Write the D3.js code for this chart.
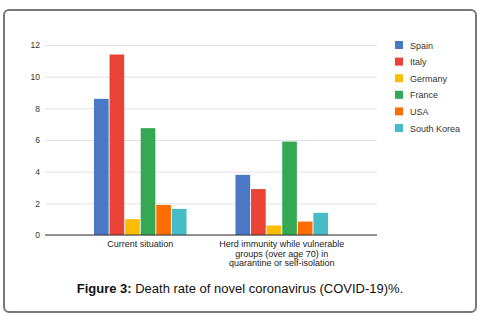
<!DOCTYPE html>
<html>
<head>
<meta charset="utf-8">
<style>
  body { margin: 0; background: #fff; }
  text { font-family: "Liberation Sans", Arial, sans-serif; }
</style>
</head>
<body>
<div id="chart"></div>
<script src="https://d3js.org/d3.v7.min.js"></script>
<script>
// data
let categories = ["Current situation", "Herd immunity while vulnerable groups (over age 70) in quarantine or self-isolation"];
let category_lines = [["Current situation"], ["Herd immunity while vulnerable", "groups (over age 70) in", "quarantine or self-isolation"]];
let countries = ["Spain", "Italy", "Germany", "France", "USA", "South Korea"];
let spain = [8.6, 3.8];
let italy = [11.4, 2.9];
let germany = [1.0, 0.6];
let france = [6.75, 5.9];
let usa = [1.9, 0.85];
let south_korea = [1.65, 1.4];
let y_ticks = [0, 2, 4, 6, 8, 10, 12];
let colors = ["#4a78c4", "#ea4335", "#fbbc04", "#34a853", "#ff6d01", "#46bdc6"];

let series = [spain, italy, germany, france, usa, south_korea];
let rows = [];
series.forEach(function(vals, si) {
  vals.forEach(function(v, ci) {
    rows.push({country: countries[si], category: categories[ci], value: v});
  });
});

let width = 497, height = 325;
let svg = d3.select("#chart").append("svg")
  .attr("width", width)
  .attr("height", height);

// frame
svg.append("rect")
  .attr("x", 4).attr("y", 10)
  .attr("width", 472).attr("height", 302)
  .attr("rx", 5).attr("ry", 5)
  .attr("fill", "#fff")
  .attr("stroke", "#777")
  .attr("stroke-width", 2);

let plot = {left: 45, right: 377, top: 45, bottom: 235};

let x = d3.scaleBand()
  .domain(categories)
  .range([plot.left, plot.right])
  .paddingInner(0.346)
  .paddingOuter(0.346);

let x_inner = d3.scaleBand()
  .domain(countries)
  .range([0, x.bandwidth()])
  .paddingInner(0.06);

let y = d3.scaleLinear()
  .domain([0, 12])
  .range([plot.bottom, plot.top]);

let color = d3.scaleOrdinal().domain(countries).range(colors);

// y axis with gridlines
let y_axis = svg.append("g")
  .attr("transform", "translate(" + plot.left + ",0)")
  .call(d3.axisLeft(y).tickValues(y_ticks).tickSize(-(plot.right - plot.left)).tickPadding(5));
y_axis.select(".domain").remove();
y_axis.selectAll(".tick line").attr("stroke", "#e2e2e2").attr("stroke-width", 1);
y_axis.selectAll(".tick text")
  .attr("fill", "#333")
  .style("font-size", "8.5px");

// bars
svg.append("g").selectAll("rect")
  .data(rows)
  .enter()
  .append("rect")
    .attr("x", function(d) { return x(d.category) + x_inner(d.country); })
    .attr("y", function(d) { return y(d.value); })
    .attr("width", x_inner.bandwidth())
    .attr("height", function(d) { return y(0) - y(d.value); })
    .attr("fill", function(d) { return color(d.country); });

// baseline
svg.append("line")
  .attr("x1", plot.left).attr("x2", plot.right)
  .attr("y1", y(0)).attr("y2", y(0))
  .attr("stroke", "#333").attr("stroke-width", 1);

// category labels
categories.forEach(function(c, i) {
  let t = svg.append("text")
    .attr("x", x(c) + x.bandwidth() / 2)
    .attr("y", 247)
    .attr("text-anchor", "middle")
    .attr("fill", "#222")
    .style("font-size", "9px");
  category_lines[i].forEach(function(line, li) {
    t.append("tspan")
      .attr("x", x(c) + x.bandwidth() / 2)
      .attr("dy", li === 0 ? 0 : 9.6)
      .text(line);
  });
});

// legend
let legend = svg.append("g").attr("transform", "translate(395,41)");
countries.forEach(function(c, i) {
  let g = legend.append("g").attr("transform", "translate(0," + (i * 16.6) + ")");
  g.append("rect").attr("width", 8).attr("height", 8).attr("fill", color(c));
  g.append("text")
    .attr("x", 15).attr("y", 7.5)
    .attr("fill", "#333")
    .style("font-size", "9px")
    .text(c);
});

// caption
let caption = svg.append("text")
  .attr("x", 240)
  .attr("y", 293)
  .attr("text-anchor", "middle")
  .attr("fill", "#111")
  .style("font-size", "13px");
caption.append("tspan").attr("font-weight", "bold").text("Figure 3:");
caption.append("tspan").text(" Death rate of novel coronavirus (COVID-19)%.");
</script>
</body>
</html>
